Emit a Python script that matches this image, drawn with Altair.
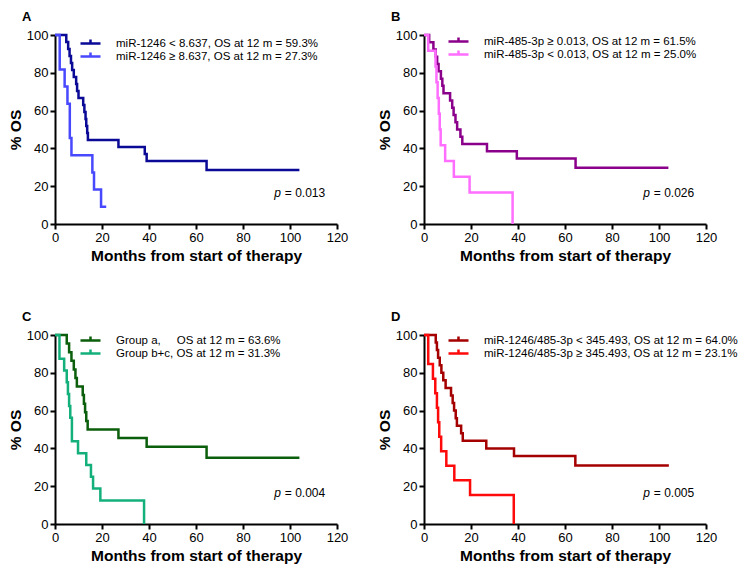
import altair as alt
import pandas as pd

FONT = "Liberation Sans"

# ---------------- data ----------------
# Panel A
a_names = ["miR-1246 < 8.637, OS at 12 m = 59.3%", "miR-1246 \u2265 8.637, OS at 12 m = 27.3%"]
a1_t = [0, 4.8, 5.6, 6.2, 6.8, 7.3, 8.0, 9.0, 9.4, 10.0, 12.0, 12.5, 13.0, 13.3, 13.7, 14.0, 27.0, 38.2, 39.0, 64.5, 104.0]
a1_s = [100, 96.3, 92.6, 88.9, 85.2, 81.5, 77.8, 74.1, 70.4, 66.7, 63.0, 59.3, 55.6, 51.9, 48.1, 44.4, 40.7, 37.0, 33.3, 28.6, 28.6]
a2_t = [0, 2.0, 4.1, 5.3, 6.3, 7.0, 15.9, 16.6, 19.6, 21.8]
a2_s = [100, 81.8, 72.7, 63.6, 45.5, 36.4, 27.3, 18.2, 9.1, 9.1]
a_colors = ["#0a0a96", "#4848ff"]
a_p = "0.013"

# Panel B
b_names = ["miR-485-3p \u2265 0.013, OS at 12 m = 61.5%", "miR-485-3p < 0.013, OS at 12 m = 25.0%"]
b1_t = [0, 2.2, 4.0, 5.0, 5.6, 6.2, 7.2, 7.8, 8.3, 11.1, 12.0, 12.6, 13.4, 14.1, 15.5, 16.3, 26.8, 39.5, 64.5, 104.0]
b1_s = [100, 96.2, 92.3, 88.5, 84.6, 80.8, 76.9, 73.1, 69.2, 65.4, 61.5, 57.7, 53.8, 50.0, 46.2, 42.3, 38.5, 34.6, 29.7, 29.7]
b2_t = [0, 1.8, 4.9, 5.3, 5.8, 6.3, 6.7, 7.1, 9.0, 12.7, 19.4, 37.7]
b2_s = [100, 91.7, 83.3, 75.0, 66.7, 58.3, 50.0, 41.7, 33.3, 25.0, 16.7, 0]
b_colors = ["#8b008b", "#ff6eff"]
b_p = "0.026"

# Panel C
c_names = ["Group a,\u00a0\u00a0\u00a0\u00a0\u00a0OS at 12 m = 63.6%", "Group b+c, OS at 12 m = 31.3%"]
c1_t = [0, 5.0, 6.0, 7.0, 8.0, 8.7, 9.3, 11.8, 12.3, 12.8, 13.3, 13.9, 27.0, 39.0, 64.5, 104.0]
c1_s = [100, 95.5, 90.9, 86.4, 81.8, 77.3, 72.7, 68.2, 63.6, 59.1, 54.5, 50.0, 45.5, 40.9, 35.1, 35.1]
c2_t = [0, 1.9, 3.9, 5.0, 5.5, 6.0, 6.5, 7.2, 9.8, 13.3, 15.3, 16.2, 19.3, 37.9]
c2_s = [100, 87.5, 81.25, 75.0, 68.75, 62.5, 56.25, 43.75, 37.5, 31.25, 25.0, 18.75, 12.5, 0]
c_colors = ["#0b5e0b", "#14b07c"]
c_p = "0.004"

# Panel D
d_names = ["miR-1246/485-3p < 345.493, OS at 12 m = 64.0%", "miR-1246/485-3p \u2265 345.493, OS at 12 m = 23.1%"]
d1_t = [0, 5.0, 5.5, 6.0, 6.7, 7.4, 8.2, 9.2, 11.5, 12.2, 12.8, 13.5, 14.0, 15.8, 16.5, 26.5, 38.3, 64.4, 104.2]
d1_s = [100, 96, 92, 88, 84, 80, 76, 72, 68, 64, 60, 56, 52, 48, 44, 40, 36, 30.9, 30.9]
d2_t = [0, 1.8, 3.8, 4.8, 5.5, 6.0, 6.5, 7.3, 9.5, 12.9, 19.6, 38.2]
d2_s = [100, 84.6, 76.9, 69.2, 61.5, 53.8, 46.2, 38.5, 30.8, 23.1, 15.4, 0]
d_colors = ["#a50000", "#ff0a0a"]
d_p = "0.005"

x_ticks = [0, 20, 40, 60, 80, 100, 120]
y_ticks = [0, 20, 40, 60, 80, 100]

W, H = 282, 189

X_SCALE = alt.Scale(domain=[0, 120], nice=False)
Y_SCALE = alt.Scale(domain=[0, 100], nice=False)
X_AXIS = alt.Axis(values=x_ticks, title="Months from start of therapy", labelOverlap=False,
                  labelFlush=False)
Y_AXIS = alt.Axis(values=y_ticks, title="% OS", labelOverlap=False, labelFlush=False)


def panel(letter, names, t1, s1, t2, s2, colors, pval, lx, ly):
    df = pd.DataFrame({
        "t": t1 + t2,
        "s": s1 + s2,
        "g": [names[0]] * len(t1) + [names[1]] * len(t2),
    })
    lines = alt.Chart(df).mark_line(interpolate="step-after", strokeWidth=2.5).encode(
        x=alt.X("t:Q", scale=X_SCALE, axis=X_AXIS),
        y=alt.Y("s:Q", scale=Y_SCALE, axis=Y_AXIS),
        color=alt.Color("g:N", scale=alt.Scale(domain=names, range=colors),
                        legend=alt.Legend(title=None, orient="none", legendX=lx, legendY=ly,
                                          symbolType="M-2,0L2,0M0,-0.8L0,0.2",
                                          symbolSize=100, symbolStrokeWidth=2.5,
                                          symbolFillColor="transparent",
                                          labelFont=FONT, labelFontSize=11.5, labelColor="black",
                                          labelOffset=19, labelLimit=400, rowPadding=-11,
                                          padding=0)),
        detail="g:N",
    )
    pdf = pd.DataFrame({"t": [97.8], "s": [16.5], "p": ["p"], "v": ["= " + pval]})
    p_italic = alt.Chart(pdf).mark_text(align="right", baseline="middle", dx=-4, font=FONT,
                                        fontSize=12, fontStyle="italic", color="black").encode(
        x=alt.X("t:Q", scale=X_SCALE, axis=X_AXIS),
        y=alt.Y("s:Q", scale=Y_SCALE, axis=Y_AXIS), text="p:N")
    p_val = alt.Chart(pdf).mark_text(align="left", baseline="middle", dx=0, font=FONT,
                                     fontSize=12, color="black").encode(
        x=alt.X("t:Q", scale=X_SCALE, axis=X_AXIS),
        y=alt.Y("s:Q", scale=Y_SCALE, axis=Y_AXIS), text="v:N")
    return alt.layer(lines, p_italic, p_val).properties(
        width=W, height=H,
        title=alt.TitleParams(letter, anchor="start", frame="group", dx=-33, offset=5,
                              font=FONT, fontSize=13, fontWeight="bold", color="black"),
    )


pA = panel("A", a_names, a1_t, a1_s, a2_t, a2_s, a_colors, a_p, 29, 2)
pB = panel("B", b_names, b1_t, b1_s, b2_t, b2_s, b_colors, b_p, 28, 0)
pC = panel("C", c_names, c1_t, c1_s, c2_t, c2_s, c_colors, c_p, 29, -1)
pD = panel("D", d_names, d1_t, d1_s, d2_t, d2_s, d_colors, d_p, 28, -1)

top = alt.hconcat(pA, pB, spacing=29).resolve_scale(color="independent").resolve_legend(color="independent")
bottom = alt.hconcat(pC, pD, spacing=29).resolve_scale(color="independent").resolve_legend(color="independent")

chart = alt.vconcat(top, bottom, spacing=47).resolve_scale(color="independent").resolve_legend(
    color="independent"
).properties(padding={"left": 0, "top": 3, "right": 0, "bottom": 0}).configure_view(
    stroke=None
).configure_axis(
    labelFont=FONT, labelFontSize=13, labelColor="black", labelPadding=2, labelOverlap=False,
    titleFont=FONT, titleFontSize=15.5, titleFontWeight="bold", titleColor="black",
    domainColor="black", domainWidth=2, tickColor="black", tickWidth=2, tickSize=5,
    grid=False,
).configure_axisX(titlePadding=4).configure_axisY(titlePadding=3)

chart.save("out.html", embed_options={"renderer": "svg", "actions": False})
